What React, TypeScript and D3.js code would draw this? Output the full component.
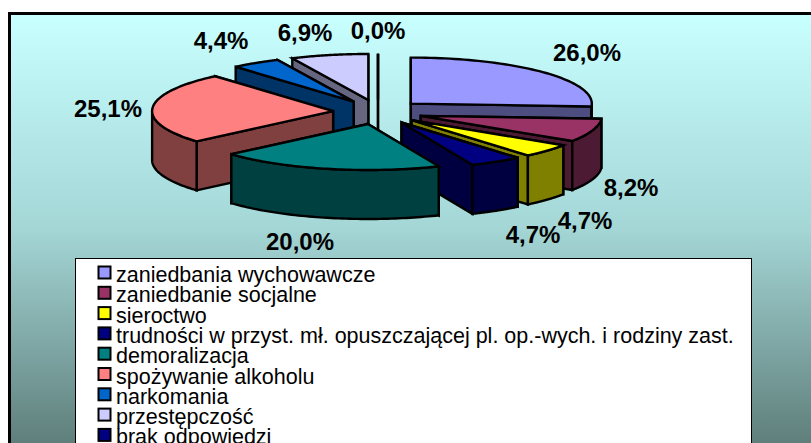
import React from "react";
import * as d3 from "d3";

const categories = [
  "zaniedbania wychowawcze",
  "zaniedbanie socjalne",
  "sieroctwo",
  "trudności w przyst. mł. opuszczającej pl. op.-wych. i rodziny zast.",
  "demoralizacja",
  "spożywanie alkoholu",
  "narkomania",
  "przestępczość",
  "brak odpowiedzi",
];
const values = [26.0, 8.2, 4.7, 4.7, 20.0, 25.1, 4.4, 6.9, 0.0];
const labels = ["26,0%", "8,2%", "4,7%", "4,7%", "20,0%", "25,1%", "4,4%", "6,9%", "0,0%"];
const colors = ["#9999FF", "#993366", "#FFFF00", "#000080", "#008080", "#FF8080", "#0066CC", "#CCCCFF", "#000080"];
const sideColors = ["#4D4D80", "#4D1A33", "#808000", "#000040", "#004040", "#804040", "#003366", "#666680", "#000040"];
const labelPos: [number, number][] = [[587, 61], [631, 196], [533, 243], [585, 229], [300, 250], [108, 117], [221, 49], [305, 41], [378, 39]];
const drawOrder = [8, 7, 6, 5, 0, 1, 2, 3, 4];

const W = 811, H = 443;
const cx = 378, cy = 112, rx = 181, ry = 46, depth = 49, explodeX = 45, explodeY = 12.3;
const FONT = "'Liberation Sans', Arial, sans-serif";

const arcs = d3.pie<number>().sort(null).startAngle(0).endAngle(2 * Math.PI)(values);
const legendY = d3.scaleLinear().domain([0, 1]).range([278.5, 298.8]);
const line = d3.line<[number, number]>();

function slicePaths(i: number) {
  const a = arcs[i];
  const mid = (a.startAngle + a.endAngle) / 2;
  const ax = cx + explodeX * Math.sin(mid);
  const ay = cy - explodeY * Math.cos(mid);
  const pt = (t: number, dz = 0): [number, number] => [ax + rx * Math.sin(t), ay - ry * Math.cos(t) + dz];
  const n = 60;
  const angs = d3.range(n + 1).map((k) => a.startAngle + ((a.endAngle - a.startAngle) * k) / n);
  const top = line([[ax, ay], ...angs.map((t) => pt(t))]) + "Z";
  const radial = [a.startAngle, a.endAngle]
    .map((t) => ({ y: pt(t)[1], d: line([[ax, ay], pt(t), pt(t, depth), [ax, ay + depth]]) + "Z" }))
    .sort((p, q) => p.y - q.y)
    .map((p) => p.d);
  const s = Math.max(a.startAngle, Math.PI / 2);
  const e = Math.min(a.endAngle, (3 * Math.PI) / 2);
  let outer: string | null = null;
  if (e > s) {
    const os = d3.range(n + 1).map((k) => s + ((e - s) * k) / n);
    outer = line([...os.map((t) => pt(t)), ...os.slice().reverse().map((t) => pt(t, depth))]) + "Z";
  }
  return { top, radial, outer };
}

export default function App() {
  return (
    <svg width={W} height={H} style={{ position: "absolute", left: 0, top: 0, display: "block", background: "#fff" }}>
      <defs>
        <linearGradient id="bg" gradientUnits="userSpaceOnUse" x1="0" y1="15" x2="0" y2="443">
          <stop offset="0" stopColor="#C8FFFF" />
          <stop offset="0.5" stopColor="#A4D6D6" />
          <stop offset="1" stopColor="#5F7F7B" />
        </linearGradient>
      </defs>
      <rect x={9.5} y={13.5} width={W + 10} height={H} fill="url(#bg)" stroke="#000" strokeWidth={3} />
      {drawOrder.map((i) => {
        const p = slicePaths(i);
        return (
          <g key={i} stroke="#000" strokeWidth={2.4} strokeLinejoin="miter">
            {p.radial.map((d, k) => <path key={k} d={d} fill={sideColors[i]} />)}
            {p.outer && <path d={p.outer} fill={sideColors[i]} />}
            <path d={p.top} fill={colors[i]} />
          </g>
        );
      })}
      {labels.map((t, i) => (
        <text key={i} x={labelPos[i][0]} y={labelPos[i][1]} textAnchor="middle" fontFamily={FONT} fontWeight="bold" fontSize={24} fill="#000">{t}</text>
      ))}
      <rect x={75.5} y={258.5} width={676} height={H} fill="#fff" stroke="#000" strokeWidth={1} />
      {categories.map((c, i) => (
        <g key={i}>
          <rect x={98.5} y={legendY(i) - 12} width={12} height={12} fill={colors[i]} stroke="#000" strokeWidth={2} />
          <text x={116} y={legendY(i) + 3.5} fontFamily={FONT} fontSize={21.5} fill="#000">{c}</text>
        </g>
      ))}
    </svg>
  );
}
